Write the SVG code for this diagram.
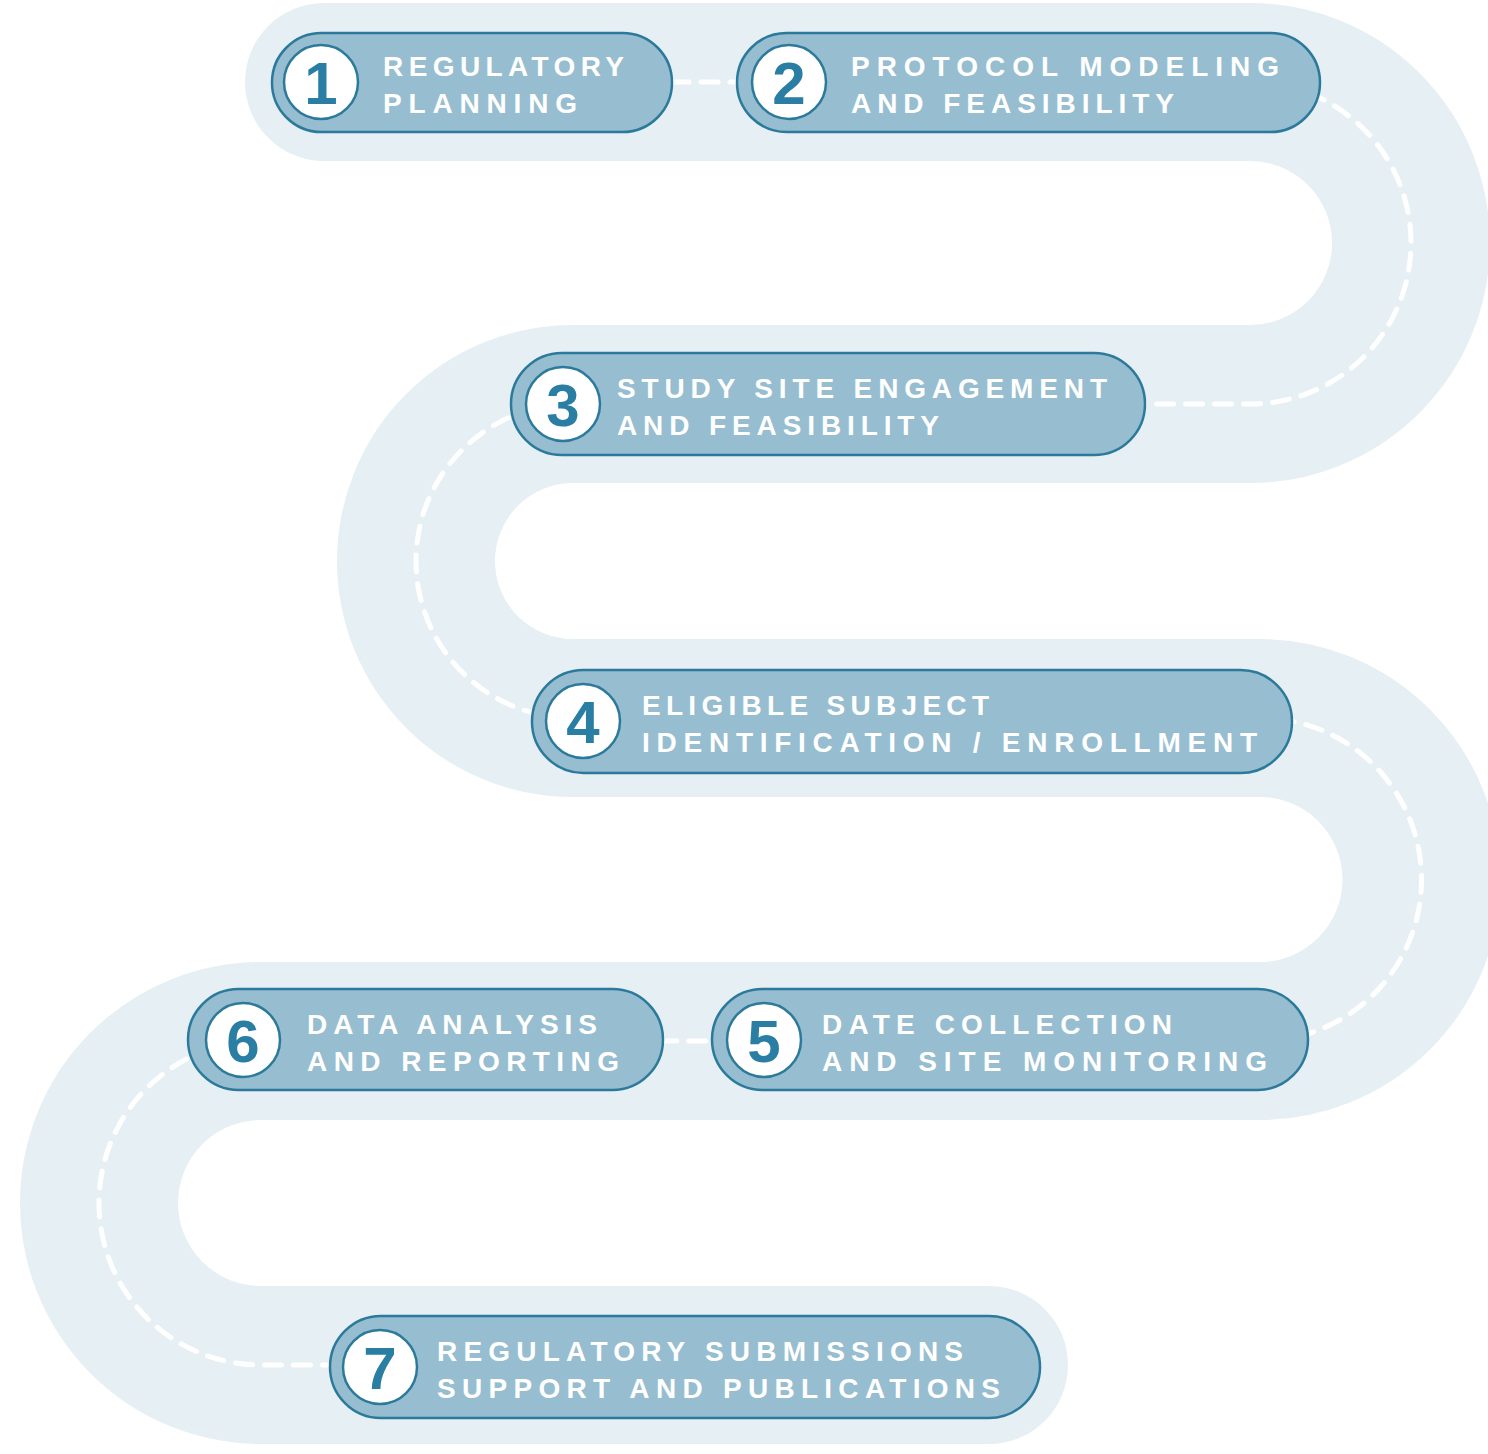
<svg xmlns="http://www.w3.org/2000/svg" width="1488" height="1454" viewBox="0 0 1488 1454">
<style>
.pill{fill:#97bdd0;stroke:#2b7a9c;stroke-width:2.5}
.badge{fill:#ffffff;stroke:#2b7a9c;stroke-width:2.5}
.num{font-family:"Liberation Sans",Arial,sans-serif;font-weight:bold;font-size:60px;fill:#2a7ea3;text-anchor:middle}
.lbl{font-family:"Liberation Sans",Arial,sans-serif;font-weight:bold;font-size:28px;fill:#ffffff}
</style>
<rect width="1488" height="1454" fill="#ffffff"/>
<g id="road">
<path d="M 324 82 H 1250 A 161 161 0 0 1 1250 404 H 573 A 157 157 0 0 0 573 718 H 1260 A 161.5 161.5 0 0 1 1260 1041 H 261 A 162 162 0 0 0 261 1365 H 989" fill="none" stroke="#e6eff4" stroke-width="158" stroke-linecap="round"/>
</g>
<g id="connectors">
<path d="M 324 82 H 1250 A 161 161 0 0 1 1250 404 H 573 A 157 157 0 0 0 573 718 H 1260 A 161.5 161.5 0 0 1 1260 1041 H 261 A 162 162 0 0 0 261 1365 H 989" fill="none" stroke="#ffffff" stroke-width="5" stroke-dasharray="17 12" stroke-linecap="round"/>
</g>
<g id="node1">
<rect class="pill" x="272" y="33" width="400" height="99" rx="49.5"/>
<circle class="badge" cx="321" cy="82" r="37"/>
<text class="num" x="321" y="104">1</text>
<text class="lbl" x="383" y="76" textLength="241" lengthAdjust="spacing">REGULATORY</text>
<text class="lbl" x="383" y="113" textLength="194" lengthAdjust="spacing">PLANNING</text>
</g>
<g id="node2">
<rect class="pill" x="737" y="33" width="583" height="99" rx="49.5"/>
<circle class="badge" cx="789" cy="82" r="37"/>
<text class="num" x="789" y="104">2</text>
<text class="lbl" x="851" y="76" textLength="428" lengthAdjust="spacing">PROTOCOL MODELING</text>
<text class="lbl" x="851" y="113" textLength="323" lengthAdjust="spacing">AND FEASIBILITY</text>
</g>
<g id="node3">
<rect class="pill" x="511" y="353" width="634" height="102" rx="51"/>
<circle class="badge" cx="563" cy="404" r="37"/>
<text class="num" x="563" y="426">3</text>
<text class="lbl" x="617" y="398" textLength="490" lengthAdjust="spacing">STUDY SITE ENGAGEMENT</text>
<text class="lbl" x="617" y="435" textLength="322" lengthAdjust="spacing">AND FEASIBILITY</text>
</g>
<g id="node4">
<rect class="pill" x="532" y="670" width="760" height="103" rx="51.5"/>
<circle class="badge" cx="583" cy="721" r="37"/>
<text class="num" x="583" y="743">4</text>
<text class="lbl" x="642" y="715" textLength="347" lengthAdjust="spacing">ELIGIBLE SUBJECT</text>
<text class="lbl" x="642" y="752" textLength="615" lengthAdjust="spacing">IDENTIFICATION / ENROLLMENT</text>
</g>
<g id="node5">
<rect class="pill" x="712" y="989" width="596" height="101" rx="50.5"/>
<circle class="badge" cx="764" cy="1040" r="37"/>
<text class="num" x="764" y="1062">5</text>
<text class="lbl" x="822" y="1034" textLength="350" lengthAdjust="spacing">DATE COLLECTION</text>
<text class="lbl" x="822" y="1071" textLength="445" lengthAdjust="spacing">AND SITE MONITORING</text>
</g>
<g id="node6">
<rect class="pill" x="188" y="989" width="475" height="101" rx="50.5"/>
<circle class="badge" cx="243" cy="1040" r="37"/>
<text class="num" x="243" y="1062">6</text>
<text class="lbl" x="307" y="1034" textLength="290" lengthAdjust="spacing">DATA ANALYSIS</text>
<text class="lbl" x="307" y="1071" textLength="312" lengthAdjust="spacing">AND REPORTING</text>
</g>
<g id="node7">
<rect class="pill" x="330" y="1316" width="710" height="102" rx="51"/>
<circle class="badge" cx="380" cy="1367" r="37"/>
<text class="num" x="380" y="1389">7</text>
<text class="lbl" x="437" y="1361" textLength="526" lengthAdjust="spacing">REGULATORY SUBMISSIONS</text>
<text class="lbl" x="437" y="1398" textLength="563" lengthAdjust="spacing">SUPPORT AND PUBLICATIONS</text>
</g>
</svg>
